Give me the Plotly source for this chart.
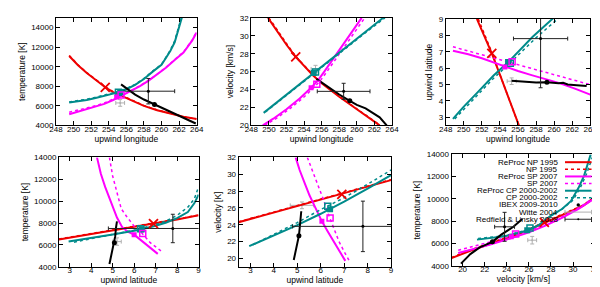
import plotly.graph_objects as go

# ---------------- colours ----------------
RED = "#ee0000"
MAG = "#ff00ff"
TEAL = "#008b8b"
BLK = "#000000"
GREY = "#b0b0b0"

# ================= Panel 1: temperature vs upwind longitude =================
p1_np_re_x = [249.5, 250.5, 251.5, 252.5, 253.6, 254.5, 255.5, 256.5, 258.0, 259.5, 261.0, 262.5, 264.0]
p1_np_re_y = [11100, 10150, 9350, 8650, 7900, 7400, 7000, 6600, 6000, 5550, 5200, 4880, 4650]
p1_np_x = [249.5, 250.5, 251.5, 252.5, 253.6, 254.5, 255.5, 256.5, 258.0, 259.5, 261.0, 262.5, 264.0]
p1_np_y = [11150, 10200, 9400, 8700, 7950, 7450, 7040, 6640, 6040, 5580, 5230, 4900, 4670]
p1_cp_re_x = [249.5, 250.5, 251.5, 252.5, 253.5, 254.5, 255.3, 256.0, 257.0, 258.0, 259.0, 260.0, 260.5, 261.0, 261.5, 262.0, 262.5]
p1_cp_re_y = [6350, 6450, 6600, 6800, 7000, 7250, 7450, 7700, 8150, 8750, 9500, 10200, 10900, 11600, 12500, 13900, 15600]
p1_cp_x = [249.5, 250.5, 251.5, 252.5, 253.5, 254.5, 255.3, 256.0, 257.0, 258.0, 259.0, 260.0, 260.5, 261.0, 261.5, 262.0, 262.5]
p1_cp_y = [6400, 6520, 6680, 6880, 7080, 7330, 7520, 7760, 8200, 8800, 9550, 10250, 10950, 11700, 12650, 14100, 15800]
p1_sp_re_x = [249.5, 250.5, 251.5, 252.5, 253.5, 254.5, 255.5, 256.5, 257.5, 258.5, 259.5, 260.5, 261.5, 262.5, 263.5, 264.0]
p1_sp_re_y = [5150, 5400, 5650, 5900, 6200, 6600, 7050, 7500, 8000, 8550, 9200, 9900, 10700, 11450, 12700, 13500]
p1_sp_x = [249.5, 250.5, 251.5, 252.5, 253.5, 254.5, 255.5, 256.5, 257.5, 258.5, 259.5, 260.5, 261.5, 262.5, 263.5, 264.0]
p1_sp_y = [5350, 5560, 5780, 6010, 6290, 6660, 7090, 7530, 8030, 8580, 9230, 9930, 10730, 11500, 12750, 13600]
p1_ibex_x = [255.4, 256.0, 257.0, 258.0, 259.2, 260.0, 261.0, 262.0, 263.0, 263.9]
p1_ibex_y = [8200, 7800, 7150, 6650, 6150, 5800, 5400, 5000, 4550, 4200]

# ================= Panel 2: velocity vs upwind longitude =================
p2_np_re_x = [249.9, 251.0, 252.0, 253.05, 254.0, 255.0, 256.0, 257.0, 258.0, 259.0, 260.0, 261.0, 262.0, 262.6]
p2_np_re_y = [32.0, 30.4, 29.0, 27.65, 26.6, 25.6, 24.7, 23.9, 23.2, 22.5, 21.8, 21.1, 20.4, 20.0]
p2_np_x = [250.0, 251.1, 252.1, 253.1, 254.0, 255.0, 256.0, 257.0, 258.0, 259.0, 260.0, 261.0, 262.0, 262.6]
p2_np_y = [32.0, 30.4, 29.0, 27.65, 26.65, 25.65, 24.75, 23.95, 23.25, 22.55, 21.85, 21.15, 20.45, 20.05]
p2_cp_re_x = [249.4, 251.0, 253.0, 255.0, 257.0, 259.0, 261.0, 263.0]
p2_cp_re_y = [21.4, 22.65, 24.2, 25.75, 27.3, 28.85, 30.4, 32.0]
p2_cp_x = [249.6, 251.0, 253.0, 255.0, 257.0, 259.0, 261.0, 263.2]
p2_cp_y = [21.5, 22.6, 24.15, 25.7, 27.25, 28.8, 30.35, 32.0]
p2_sp_re_x = [249.3, 250.5, 252.0, 253.5, 254.8, 255.6, 256.3, 257.0, 258.5, 260.55]
p2_sp_re_y = [20.0, 20.75, 21.8, 23.0, 24.2, 25.05, 26.0, 27.0, 29.0, 32.0]
p2_sp_x = [249.5, 250.8, 252.3, 253.8, 255.1, 255.9, 256.6, 257.3, 258.8, 260.9]
p2_sp_y = [20.0, 20.75, 21.8, 23.0, 24.2, 25.05, 26.0, 27.0, 29.0, 32.0]
p2_ibex_x = [255.4, 256.0, 257.0, 258.0, 259.2, 260.0, 261.0, 262.0, 262.6, 263.4]
p2_ibex_y = [25.2, 24.8, 24.1, 23.45, 22.75, 22.3, 21.9, 21.3, 20.9, 20.0]

# ================= Panel 3: upwind latitude vs upwind longitude =================
p3_np_re_x = [251.45, 252.3, 253.1, 254.0, 255.0, 256.1]
p3_np_re_y = [9.0, 7.95, 6.9, 5.6, 4.1, 2.5]
p3_np_x = [251.6, 252.4, 253.15, 254.0, 255.0, 256.1]
p3_np_y = [9.0, 7.95, 6.9, 5.6, 4.1, 2.5]
p3_cp_re_x = [248.8, 250.0, 251.5, 253.3, 254.9, 256.3, 257.6, 259.9]
p3_cp_re_y = [2.9, 3.65, 4.5, 5.55, 6.35, 7.15, 7.9, 9.05]
p3_cp_x = [249.0, 250.2, 251.7, 253.3, 255.0, 256.5, 258.0, 260.5]
p3_cp_y = [2.9, 3.6, 4.45, 5.38, 6.25, 7.05, 7.85, 9.05]
p3_sp_re_x = [248.8, 250.5, 252.0, 253.3, 254.55, 256.0, 257.5, 258.7, 260.5, 262.3, 264.0]
p3_sp_re_y = [7.06, 6.85, 6.6, 6.35, 6.07, 5.82, 5.57, 5.39, 5.1, 4.75, 4.38]
p3_sp_x = [248.8, 252.0, 255.0, 258.0, 261.0, 264.0]
p3_sp_y = [7.3, 6.82, 6.37, 5.9, 5.45, 4.99]
p3_ibex_x = [255.3, 256.5, 258.0, 259.2, 260.5, 261.0, 261.5, 262.5, 263.6]
p3_ibex_y = [5.22, 5.18, 5.12, 5.13, 5.07, 5.1, 5.0, 4.95, 4.9]

# ================= Panel 4: temperature vs upwind latitude =================
p4_np_re_x = [2.5, 4.0, 5.5, 6.9, 8.0, 9.0]
p4_np_re_y = [6500, 6990, 7480, 7950, 8330, 8700]
p4_np_x = [2.5, 4.0, 5.5, 6.9, 8.0, 9.0]
p4_np_y = [6530, 7020, 7510, 7980, 8360, 8730]
p4_cp_re_x = [2.95, 4.0, 5.0, 6.0, 6.35, 7.0, 7.5, 8.0, 8.5, 8.8, 9.0]
p4_cp_re_y = [6300, 6600, 6950, 7300, 7430, 7750, 8050, 8450, 9000, 9800, 10600]
p4_cp_x = [3.2, 4.0, 5.0, 6.0, 7.0, 7.5, 8.0, 8.5, 8.8, 9.0]
p4_cp_y = [6250, 6550, 6950, 7350, 7850, 8200, 8700, 9450, 10200, 11300]
p4_sp_re_x = [4.27, 4.45, 4.65, 4.85, 5.0, 5.2, 5.45, 5.7, 6.0, 6.35, 6.8, 7.1]
p4_sp_re_y = [14000, 12500, 11300, 10300, 9500, 8500, 7600, 7200, 6930, 6350, 5600, 5180]
p4_sp_x = [4.85, 5.0, 5.2, 5.4, 5.65, 6.0, 6.35, 6.75, 7.25]
p4_sp_y = [14000, 12300, 10800, 9300, 8600, 7700, 7100, 6200, 5450]
p4_ibex_x = [4.85, 4.92, 4.95, 5.0, 5.08, 5.12, 5.15, 5.2]
p4_ibex_y = [4250, 4900, 5200, 5700, 6200, 6800, 7500, 8150]

# ================= Panel 5: velocity vs upwind latitude =================
p5_np_re_x = [2.5, 4.0, 5.5, 6.9, 8.0, 9.0]
p5_np_re_y = [24.3, 25.45, 26.6, 27.6, 28.5, 29.3]
p5_np_x = [2.5, 4.0, 5.5, 6.9, 8.0, 9.0]
p5_np_y = [24.35, 25.5, 26.65, 27.65, 28.55, 29.35]
p5_cp_re_x = [2.95, 4.0, 5.0, 6.0, 6.4, 7.0, 8.0, 9.0]
p5_cp_re_y = [21.45, 22.7, 23.95, 25.3, 25.85, 26.75, 28.3, 29.9]
p5_cp_x = [3.1, 4.0, 5.0, 6.0, 6.3, 7.0, 8.0, 9.0]
p5_cp_y = [21.6, 22.85, 24.25, 25.8, 26.2, 27.2, 28.8, 30.5]
p5_sp_re_x = [4.93, 5.1, 5.32, 5.52, 5.74, 6.05, 6.3, 6.57, 6.8, 7.05]
p5_sp_re_y = [32.0, 30.5, 28.9, 27.5, 26.2, 24.4, 23.2, 22.0, 20.9, 19.7]
p5_sp_x = [5.43, 5.65, 5.88, 6.1, 6.36, 6.55, 6.78, 7.0, 7.26]
p5_sp_y = [32.0, 30.4, 28.9, 27.1, 25.0, 23.6, 22.0, 20.8, 19.5]
p5_ibex_x = [4.85, 4.9, 4.95, 5.0, 5.07, 5.1, 5.13, 5.17]
p5_ibex_y = [19.8, 20.5, 21.1, 21.6, 22.7, 23.5, 24.5, 25.6]

# ================= Panel 6: temperature vs velocity =================
p6_np_re_x = [19.0, 20.7, 22.4, 24.1, 25.8, 27.4, 29.2, 30.9, 32.0]
p6_np_re_y = [4690, 5350, 5930, 6500, 7150, 7850, 8660, 9380, 10150]
p6_np_x = [19.0, 20.7, 22.4, 24.1, 25.8, 27.4, 29.2, 30.9, 32.0]
p6_np_y = [4750, 5420, 6000, 6580, 7220, 7920, 8720, 9440, 10200]
p6_cp_re_x = [21.3, 22.4, 23.8, 25.8, 26.9, 28.0, 29.0, 29.8, 30.5, 31.0, 31.6]
p6_cp_re_y = [6350, 6500, 6650, 7150, 7650, 8500, 9100, 9800, 11000, 12100, 14000]
p6_cp_x = [21.4, 22.4, 23.8, 25.8, 27.0, 28.1, 29.1, 30.0, 30.7, 31.2, 31.85]
p6_cp_y = [6450, 6550, 6700, 7200, 7700, 8550, 9150, 9900, 11100, 12200, 14000]
p6_sp_re_x = [19.6, 21.0, 22.5, 24.3, 26.0, 27.5, 29.0, 30.5, 32.0]
p6_sp_re_y = [5150, 5500, 5900, 6450, 7000, 7600, 8300, 9100, 10100]
p6_sp_x = [19.6, 21.0, 22.5, 24.3, 26.0, 27.5, 29.0, 30.5, 32.0]
p6_sp_y = [5400, 5750, 6150, 6650, 7150, 7700, 8400, 9200, 10200]
p6_ibex_x = [19.85, 20.7, 21.55, 22.7, 23.5, 24.6, 25.4]
p6_ibex_y = [4200, 5050, 5650, 6150, 6800, 7500, 8200]

# ---------------- characteristic points (per panel: x, y) ----------------
np_mark_x = [253.6, 253.05, 253.1, 6.9, 6.9, 27.4]
np_mark_y = [7900, 27.65, 6.9, 7950, 27.6, 7900]
cp_re_mark_x = [255.3, 255.1, 254.9, 6.35, 6.4, 25.85]
cp_re_mark_y = [7420, 25.85, 6.37, 7430, 25.85, 7200]
cp_mark_x = [255.1, 255.3, 255.15, 6.3, 6.3, 26.1]
cp_mark_y = [7380, 25.95, 6.3, 7480, 26.2, 7400]
sp_re_mark_x = [254.9, 254.8, 254.55, 6.0, 6.05, 24.4]
sp_re_mark_y = [6900, 24.2, 6.07, 6930, 24.4, 6600]
sp_mark_x = [255.4, 255.45, 255.35, 6.4, 6.4, 24.8]
sp_mark_y = [7100, 24.6, 6.38, 7050, 24.8, 6850]
ibex_x = [259.2, 259.2, 259.2, 5.08, 5.07, 22.7]
ibex_y = [6150, 22.75, 5.13, 6200, 22.7, 6150]

# Witte 2004 (x, y, xerr, yerr) per panel
witte_x = [255.3, 255.3, 255.3, 5.2, 5.2, 26.3]
witte_y = [6300, 26.3, 5.2, 6300, 26.3, 6300]
witte_ex = [0.5, 0.5, 0.5, 0.2, 0.5, 0.4]
witte_ey = [340, 0.4, 0.2, 340, 0.4, 340]
# Redfield & Linsky 2008 per panel
rl_x = [258.5, 258.5, 258.5, 7.8, 7.8, 23.8]
rl_y = [7500, 23.8, 7.8, 7500, 23.8, 7500]
rl_ex = [3.0, 3.0, 3.0, 3.0, 3.0, 0.9]
rl_ey = [1300, 0.9, 3.0, 1300, 3.0, 1300]

legend_labels = ["ReProc NP 1995", "NP 1995", "ReProc SP 2007", "SP 2007",
                 "ReProc CP 2000-2002", "CP 2000-2002", "IBEX 2009-2010",
                 "Witte 2004", "Redfield & Linsky 2008"]

# ---------------- axes ----------------
panels = [
    dict(xd=[0.070, 0.310], yd=[0.592, 0.979], xr=[248, 264], yr=[4000, 15000], xt0=248, xdt=2, yt0=4000, ydt=2000,
         xt="upwind longitude", yt="temperature [K]", yfmt="d"),
    dict(xd=[0.4033, 0.6433], yd=[0.592, 0.979], xr=[248, 264], yr=[20, 32], xt0=248, xdt=2, yt0=20, ydt=2,
         xt="upwind longitude", yt="velocity [km/s]", yfmt=""),
    dict(xd=[0.735, 0.9817], yd=[0.592, 0.975], xr=[248, 264], yr=[2.5, 9], xt0=248, xdt=2, yt0=3, ydt=1,
         xt="upwind longitude", yt="upwind latitude", yfmt=""),
    dict(xd=[0.075, 0.3133], yd=[0.0836, 0.477], xr=[2.5, 9], yr=[4000, 14000], xt0=3, xdt=1, yt0=4000, ydt=2000,
         xt="upwind latitude", yt="temperature [K]", yfmt="d"),
    dict(xd=[0.3817, 0.6417], yd=[0.0836, 0.477], xr=[2.5, 9], yr=[19, 32], xt0=3, xdt=1, yt0=20, ydt=2,
         xt="upwind latitude", yt="velocity [K]", yfmt=""),
    dict(xd=[0.745, 0.99], yd=[0.087, 0.4878], xr=[19, 32], yr=[4000, 14000], xt0=20, xdt=2, yt0=4000, ydt=2000,
         xt="velocity [km/s]", yt="temperature [K]", yfmt="d"),
]

curves = {
    1: [(p1_np_re_x, p1_np_re_y, RED, "solid"), (p1_np_x, p1_np_y, RED, "dot"),
        (p1_sp_re_x, p1_sp_re_y, MAG, "solid"), (p1_sp_x, p1_sp_y, MAG, "dot"),
        (p1_cp_re_x, p1_cp_re_y, TEAL, "solid"), (p1_cp_x, p1_cp_y, TEAL, "dot"),
        (p1_ibex_x, p1_ibex_y, BLK, "solid")],
    2: [(p2_np_re_x, p2_np_re_y, RED, "solid"), (p2_np_x, p2_np_y, RED, "dot"),
        (p2_sp_re_x, p2_sp_re_y, MAG, "solid"), (p2_sp_x, p2_sp_y, MAG, "dot"),
        (p2_cp_re_x, p2_cp_re_y, TEAL, "solid"), (p2_cp_x, p2_cp_y, TEAL, "dot"),
        (p2_ibex_x, p2_ibex_y, BLK, "solid")],
    3: [(p3_np_re_x, p3_np_re_y, RED, "solid"), (p3_np_x, p3_np_y, RED, "dot"),
        (p3_sp_re_x, p3_sp_re_y, MAG, "solid"), (p3_sp_x, p3_sp_y, MAG, "dot"),
        (p3_cp_re_x, p3_cp_re_y, TEAL, "solid"), (p3_cp_x, p3_cp_y, TEAL, "dot"),
        (p3_ibex_x, p3_ibex_y, BLK, "solid")],
    4: [(p4_np_re_x, p4_np_re_y, RED, "solid"), (p4_np_x, p4_np_y, RED, "dot"),
        (p4_sp_re_x, p4_sp_re_y, MAG, "solid"), (p4_sp_x, p4_sp_y, MAG, "dot"),
        (p4_cp_re_x, p4_cp_re_y, TEAL, "solid"), (p4_cp_x, p4_cp_y, TEAL, "dot"),
        (p4_ibex_x, p4_ibex_y, BLK, "solid")],
    5: [(p5_np_re_x, p5_np_re_y, RED, "solid"), (p5_np_x, p5_np_y, RED, "dot"),
        (p5_sp_re_x, p5_sp_re_y, MAG, "solid"), (p5_sp_x, p5_sp_y, MAG, "dot"),
        (p5_cp_re_x, p5_cp_re_y, TEAL, "solid"), (p5_cp_x, p5_cp_y, TEAL, "dot"),
        (p5_ibex_x, p5_ibex_y, BLK, "solid")],
    6: [(p6_np_re_x, p6_np_re_y, RED, "solid"), (p6_np_x, p6_np_y, RED, "dot"),
        (p6_sp_re_x, p6_sp_re_y, MAG, "solid"), (p6_sp_x, p6_sp_y, MAG, "dot"),
        (p6_cp_re_x, p6_cp_re_y, TEAL, "solid"), (p6_cp_x, p6_cp_y, TEAL, "dot"),
        (p6_ibex_x, p6_ibex_y, BLK, "solid")],
}

FONT = "Liberation Sans"
fig = go.Figure()

for i in range(6):
    n = i + 1
    xa = "x" if n == 1 else f"x{n}"
    ya = "y" if n == 1 else f"y{n}"
    # Witte
    fig.add_trace(go.Scatter(x=[witte_x[i]], y=[witte_y[i]], xaxis=xa, yaxis=ya, mode="markers",
                             marker=dict(size=2, color=GREY),
                             error_x=dict(type="data", array=[witte_ex[i]], color=GREY, thickness=1, width=2),
                             error_y=dict(type="data", array=[witte_ey[i]], color=GREY, thickness=1, width=2),
                             showlegend=False, hoverinfo="skip"))
    for (cx, cy, col, dash) in curves[n]:
        fig.add_trace(go.Scatter(x=cx, y=cy, xaxis=xa, yaxis=ya, mode="lines",
                                 line=dict(color=col, width=2 if dash == "solid" else 1.5, dash=dash),
                                 showlegend=False, hoverinfo="skip"))
    # Redfield & Linsky
    fig.add_trace(go.Scatter(x=[rl_x[i]], y=[rl_y[i]], xaxis=xa, yaxis=ya, mode="markers",
                             marker=dict(size=3, color=BLK),
                             error_x=dict(type="data", array=[rl_ex[i]], color="#222222", thickness=1, width=2),
                             error_y=dict(type="data", array=[rl_ey[i]], color="#222222", thickness=1, width=2),
                             showlegend=False, hoverinfo="skip"))
    # markers
    fig.add_trace(go.Scatter(x=[np_mark_x[i]], y=[np_mark_y[i]], xaxis=xa, yaxis=ya, mode="markers",
                             marker=dict(symbol="x-thin", size=9, line=dict(color=RED, width=1.8)),
                             showlegend=False, hoverinfo="skip"))
    fig.add_trace(go.Scatter(x=[cp_mark_x[i]], y=[cp_mark_y[i]], xaxis=xa, yaxis=ya, mode="markers",
                             marker=dict(symbol="square-open", size=6, color=TEAL, line=dict(color=TEAL, width=1.5)),
                             showlegend=False, hoverinfo="skip"))
    fig.add_trace(go.Scatter(x=[cp_re_mark_x[i]], y=[cp_re_mark_y[i]], xaxis=xa, yaxis=ya, mode="markers",
                             marker=dict(symbol="square", size=6, color=TEAL),
                             showlegend=False, hoverinfo="skip"))
    fig.add_trace(go.Scatter(x=[sp_mark_x[i]], y=[sp_mark_y[i]], xaxis=xa, yaxis=ya, mode="markers",
                             marker=dict(symbol="square-open", size=6, color=MAG, line=dict(color=MAG, width=1.5)),
                             showlegend=False, hoverinfo="skip"))
    fig.add_trace(go.Scatter(x=[sp_re_mark_x[i]], y=[sp_re_mark_y[i]], xaxis=xa, yaxis=ya, mode="markers",
                             marker=dict(symbol="square", size=5, color=MAG),
                             showlegend=False, hoverinfo="skip"))
    fig.add_trace(go.Scatter(x=[ibex_x[i]], y=[ibex_y[i]], xaxis=xa, yaxis=ya, mode="markers",
                             marker=dict(symbol="circle", size=5, color=BLK),
                             showlegend=False, hoverinfo="skip"))

layout = dict(width=600, height=287, margin=dict(l=0, r=0, t=0, b=0),
              paper_bgcolor="white", plot_bgcolor="white", showlegend=False,
              font=dict(family=FONT, size=8, color="black"))

for i, p in enumerate(panels):
    n = i + 1
    xk = "xaxis" if n == 1 else f"xaxis{n}"
    yk = "yaxis" if n == 1 else f"yaxis{n}"
    common = dict(showline=True, linecolor="black", linewidth=1, mirror="ticks", ticks="inside",
                  ticklen=4, tickcolor="black", tickwidth=1, showgrid=False, zeroline=False,
                  exponentformat="none", tickfont=dict(size=8, family=FONT))
    layout[xk] = dict(domain=p["xd"], range=p["xr"], anchor="y" if n == 1 else f"y{n}",
                      tick0=p["xt0"], dtick=p["xdt"],
                      title=dict(text=p["xt"], font=dict(size=8.5, family=FONT), standoff=2), **common)
    layout[yk] = dict(domain=p["yd"], range=p["yr"], anchor="x" if n == 1 else f"x{n}",
                      tick0=p["yt0"], dtick=p["ydt"], tickformat=p["yfmt"],
                      title=dict(text=p["yt"], font=dict(size=8.5, family=FONT), standoff=4), **common)

fig.update_layout(**layout)
try:
    fig.update_xaxes(ticklabelstandoff=-4)
except Exception:
    pass

# ---------------- legend (gnuplot style, inside panel 6) ----------------
row0 = 0.93
step = 0.064
x_text = 0.755
x_l0, x_l1 = 0.79, 0.975
styles = [(RED, "solid"), (RED, "dot"), (MAG, "solid"), (MAG, "dot"), (TEAL, "solid"), (TEAL, "dot")]
shapes = []
annots = []
for k, lab in enumerate(legend_labels):
    yy = row0 - k * step
    annots.append(dict(xref="x6 domain", yref="y6 domain", x=x_text, y=yy, text=lab, showarrow=False,
                       xanchor="right", yanchor="middle", font=dict(size=8, family=FONT, color="black")))
    if k < 6:
        col, dash = styles[k]
        shapes.append(dict(type="line", xref="x6 domain", yref="y6 domain", x0=x_l0, x1=x_l1, y0=yy, y1=yy,
                           line=dict(color=col, width=2 if dash == "solid" else 1.5, dash=dash)))
    elif k == 6:
        xc = (x_l0 + x_l1) / 2
        shapes.append(dict(type="circle", xref="x6 domain", yref="y6 domain", x0=xc - 0.012, x1=xc + 0.012,
                           y0=yy - 0.016, y1=yy + 0.016, fillcolor=BLK, line=dict(color=BLK, width=0)))
    else:
        col = GREY if k == 7 else "#222222"
        shapes.append(dict(type="line", xref="x6 domain", yref="y6 domain", x0=x_l0, x1=x_l1, y0=yy, y1=yy,
                           line=dict(color=col, width=1)))
        for xe in (x_l0, x_l1):
            shapes.append(dict(type="line", xref="x6 domain", yref="y6 domain", x0=xe, x1=xe,
                               y0=yy - 0.02, y1=yy + 0.02, line=dict(color=col, width=1)))
        if k == 8:
            xc = (x_l0 + x_l1) / 2
            shapes.append(dict(type="circle", xref="x6 domain", yref="y6 domain", x0=xc - 0.007, x1=xc + 0.007,
                               y0=yy - 0.01, y1=yy + 0.01, fillcolor=BLK, line=dict(color=BLK, width=0)))

fig.update_layout(shapes=shapes, annotations=annots)
fig.write_html("out.html")
